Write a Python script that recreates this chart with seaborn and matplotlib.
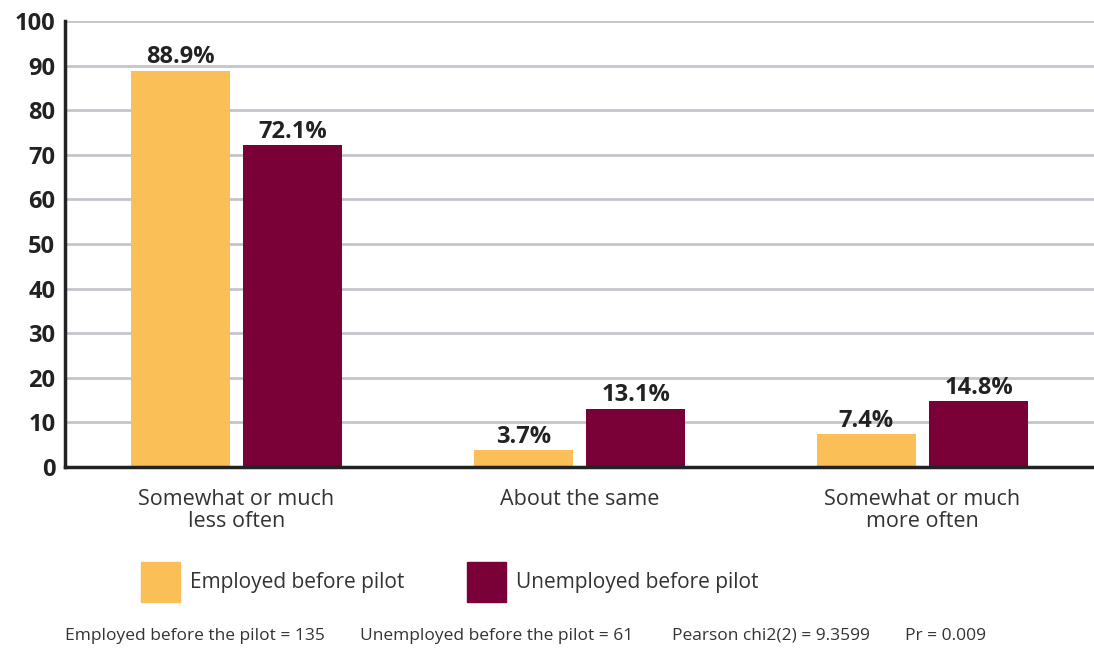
import pandas as pd
import matplotlib
matplotlib.use("Agg")
from matplotlib import pyplot as plt
import seaborn as sns

categories = ["Somewhat or much\nless often", "About the same", "Somewhat or much\nmore often"]
groups = ["Employed before pilot", "Unemployed before pilot"]
employed = [88.9, 3.7, 7.4]
unemployed = [72.1, 13.1, 14.8]
y_ticks = [0, 10, 20, 30, 40, 50, 60, 70, 80, 90, 100]
footer = ["Employed before the pilot = 135", "Unemployed before the pilot = 61",
          "Pearson chi2(2) = 9.3599", "Pr = 0.009"]
footer_x = [65, 360, 672, 905]

colors = {"Employed before pilot": "#FBBF57", "Unemployed before pilot": "#7A0038"}

df = pd.DataFrame({
    "category": categories * 2,
    "group": [groups[0]] * 3 + [groups[1]] * 3,
    "value": employed + unemployed,
})

sns.set_theme(style="white")
plt.rcParams["font.family"] = ["Open Sans", "DejaVu Sans"]

fig = plt.figure(figsize=(10.94, 6.49), dpi=100)
ax = fig.add_axes([65 / 1094, 182 / 649, 1 - 65 / 1094, 446 / 649])

sns.barplot(data=df, x="category", y="value", hue="group", order=categories,
            hue_order=groups, palette=colors, width=0.655, gap=0.12,
            saturation=1, linewidth=0, ax=ax, legend=False)

for container in ax.containers:
    ax.bar_label(container, fmt="%.1f%%", padding=1, fontsize=17,
                 fontweight="bold", color="#222222")

ax.set_xlim(-0.5, 2.5)
ax.set_ylim(0, 100)
ax.set_yticks(y_ticks)
ax.yaxis.grid(True, color="#c4c4cc", linewidth=2)
ax.set_axisbelow(True)
for side in ["top", "right"]:
    ax.spines[side].set_visible(False)
for side in ["left", "bottom"]:
    ax.spines[side].set_color("#222222")
    ax.spines[side].set_linewidth(2.5)
ax.tick_params(axis="y", length=0, pad=7, labelsize=17, labelcolor="#222222")
ax.tick_params(axis="x", length=0, pad=16, labelsize=15.5, labelcolor="#333333")
for lbl in ax.get_yticklabels():
    lbl.set_fontweight("bold")
for lbl in ax.get_xticklabels():
    lbl.set_linespacing(1.05)
ax.set_xlabel("")
ax.set_ylabel("")

handles = [plt.Rectangle((0, 0), 1, 1, color=colors[g]) for g in groups]
fig.legend(handles, groups, loc="center left", bbox_to_anchor=(122 / 1094, 1 - 582 / 649),
           ncol=2, frameon=False, fontsize=15, handlelength=1.9, handleheight=2.6,
           handletextpad=0.45, columnspacing=3.0, labelcolor="#333333")

for txt, x in zip(footer, footer_x):
    fig.text(x / 1094, 1 - 636 / 649, txt, fontsize=12.5, color="#333333", va="center")

fig.savefig("out.png", dpi=100)
